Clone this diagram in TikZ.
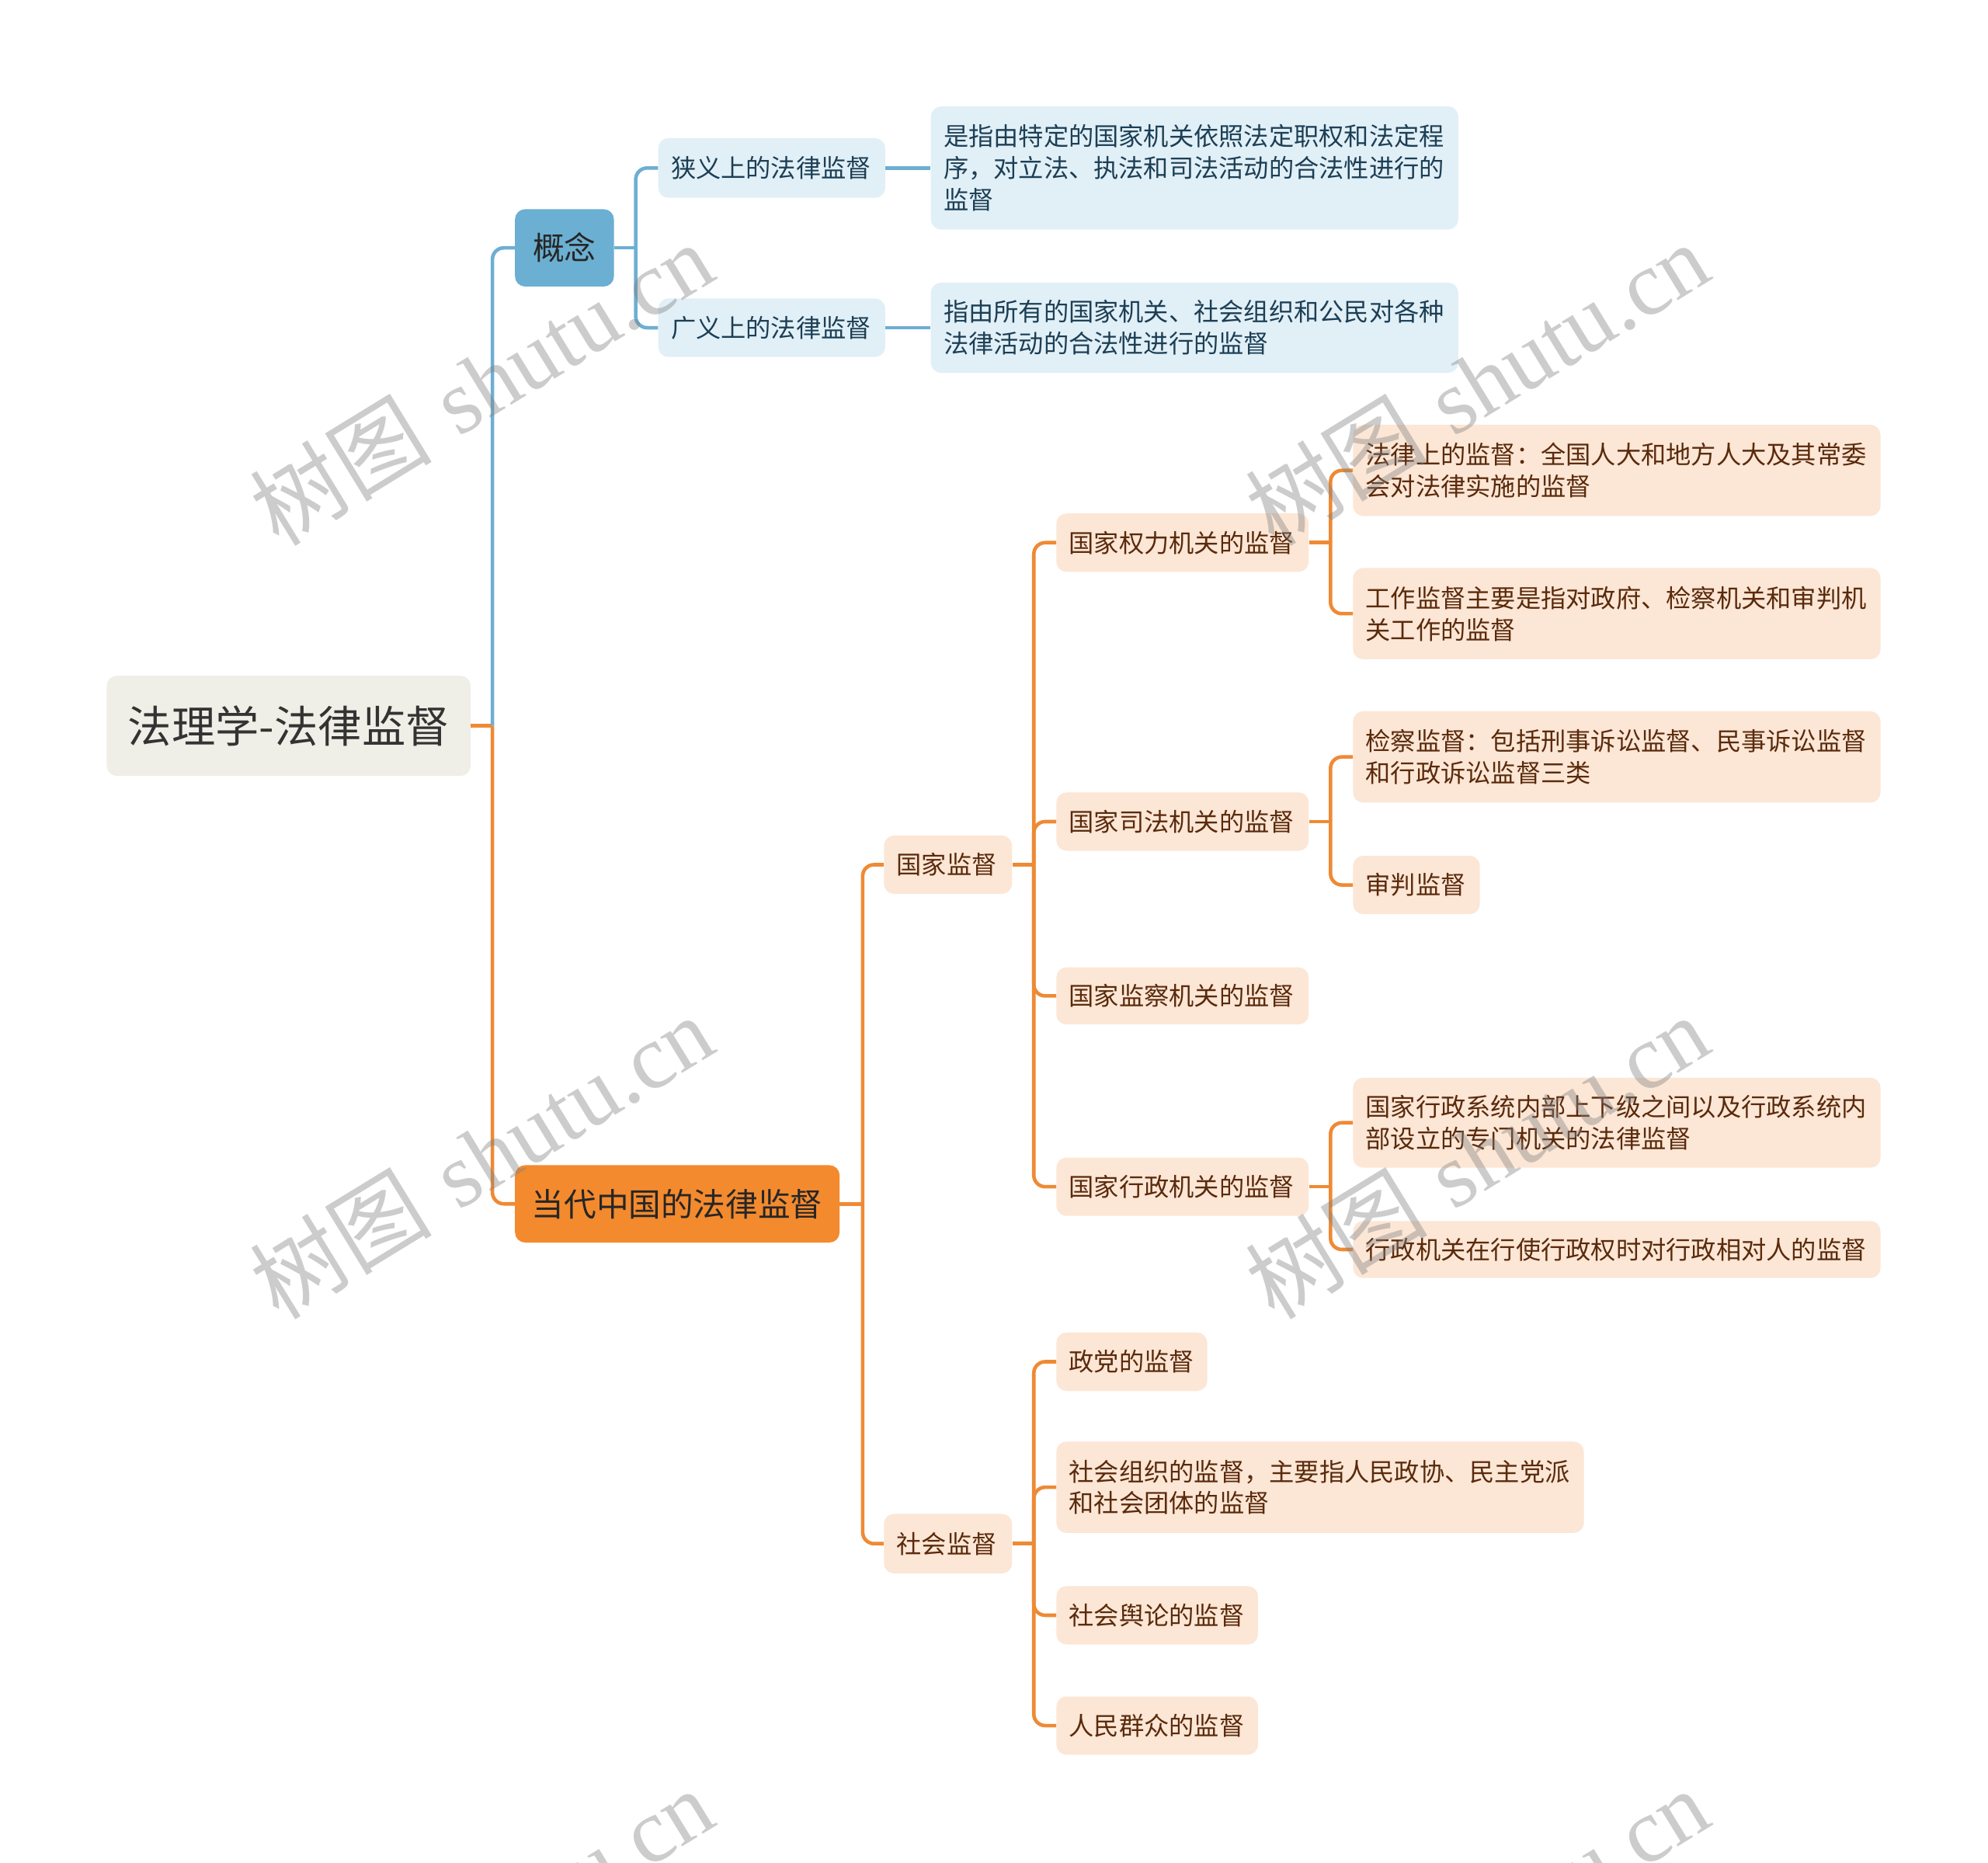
\documentclass[tikz,border=0pt]{standalone}
\usepackage{fontspec}
\newfontfamily\cjk{Noto Sans CJK SC}
\newfontfamily\wmlat{Liberation Serif}
\definecolor{lineblue}{HTML}{6DAFD2}
\definecolor{lineorange}{HTML}{EE8A35}
\definecolor{lblue}{HTML}{E1EFF7}
\definecolor{lorange}{HTML}{FCE6D5}
\definecolor{tblue}{HTML}{1C3F55}
\definecolor{torange}{HTML}{5A2A0C}
\definecolor{rootfill}{HTML}{EFEFE7}
\definecolor{midblue}{HTML}{6BAFD2}
\definecolor{midorange}{HTML}{F38A2E}
\tikzset{
  bx/.style={rounded corners=8pt, inner xsep=10pt, inner ysep=0pt, align=left, anchor=west,
    font=\cjk\fontsize{19.75}{25}\selectfont},
  lb/.style={bx, fill=lblue, text=tblue},
  lo/.style={bx, fill=lorange, text=torange},
  bl/.style={draw=lineblue, line width=2.8pt, rounded corners=9pt},
  ol/.style={draw=lineorange, line width=2.8pt, rounded corners=9pt},
  wm/.style={anchor=base west, rotate=31.5, text=gray, opacity=0.4, inner sep=0pt,
    font=\fontsize{72}{72}\selectfont},
}
\begin{document}
\begin{tikzpicture}[x=1pt,y=-1pt]
\useasboundingbox (0,0) rectangle (1568,1469);
\fill[white] (0,0) rectangle (1568,1469);

% root and first level
\node[rounded corners=8pt, fill=rootfill, text=black!80, inner sep=0pt, anchor=west,
  minimum width=287pt, minimum height=79pt, font=\cjk\fontsize{34.5}{40}\selectfont]
  (root) at (84,572.5) {法理学-法律监督};
\node[rounded corners=8pt, fill=midblue, text=black!85, inner sep=0pt, anchor=west,
  minimum width=78pt, minimum height=61pt, font=\cjk\fontsize{25}{30}\selectfont]
  (gn) at (406,195.5) {概念};
\node[rounded corners=8pt, fill=midorange, text=black!85, inner sep=0pt, anchor=west,
  minimum width=256pt, minimum height=61pt, font=\cjk\fontsize{25.5}{30}\selectfont]
  (dd) at (406,949.5) {当代中国的法律监督};

% concept branch
\node[lb, text width=159pt, minimum height=47pt] (n1) at (519,132.5) {狭义上的法律监督};
\node[lb, text width=159pt, minimum height=46pt] (n2) at (519,258.5) {广义上的法律监督};
\node[lb, text width=396pt, minimum height=97pt] (t1) at (734,132.5)
  {是指由特定的国家机关依照法定职权和法定程\\序，对立法、执法和司法活动的合法性进行的\\监督};
\node[lb, text width=396pt, minimum height=71pt] (t2) at (734,258.5)
  {指由所有的国家机关、社会组织和公民对各种\\法律活动的合法性进行的监督};

% contemporary branch
\node[lo, text width=81pt, minimum height=46pt] (gj) at (697,682) {国家监督};
\node[lo, text width=81pt, minimum height=47pt] (sh) at (697,1217.5) {社会监督};

\node[lo, text width=179pt, minimum height=46pt] (a1) at (833,428) {国家权力机关的监督};
\node[lo, text width=179pt, minimum height=46pt] (a2) at (833,648) {国家司法机关的监督};
\node[lo, text width=179pt, minimum height=45pt] (a3) at (833,785.5) {国家监察机关的监督};
\node[lo, text width=179pt, minimum height=46pt] (a4) at (833,936) {国家行政机关的监督};

\node[lo, text width=396pt, minimum height=72pt] (b1) at (1067,371)
  {法律上的监督：全国人大和地方人大及其常委\\会对法律实施的监督};
\node[lo, text width=396pt, minimum height=72pt] (b2) at (1067,484)
  {工作监督主要是指对政府、检察机关和审判机\\关工作的监督};
\node[lo, text width=396pt, minimum height=72pt] (c1) at (1067,597)
  {检察监督：包括刑事诉讼监督、民事诉讼监督\\和行政诉讼监督三类};
\node[lo, text width=80pt, minimum height=46pt] (c2) at (1067,698) {审判监督};
\node[lo, text width=396pt, minimum height=71pt] (d1) at (1067,885.5)
  {国家行政系统内部上下级之间以及行政系统内\\部设立的专门机关的法律监督};
\node[lo, text width=396pt, minimum height=45pt] (d2) at (1067,985.5)
  {行政机关在行使行政权时对行政相对人的监督};

\node[lo, text width=99pt, minimum height=46pt] (e1) at (833,1074) {政党的监督};
\node[lo, text width=396pt, minimum height=72pt] (e2) at (833,1173)
  {社会组织的监督，主要指人民政协、民主党派\\和社会团体的监督};
\node[lo, text width=139pt, minimum height=46pt] (e3) at (833,1274) {社会舆论的监督};
\node[lo, text width=139pt, minimum height=46pt] (e4) at (833,1361) {人民群众的监督};

% connectors
\draw[ol] (root.east) -- ++(17,0) coordinate (jr);
\draw[bl] (jr) |- (gn.west);
\draw[ol] (jr) |- (dd.west);

\draw[bl] (gn.east) -- ++(17,0) coordinate (jg);
\draw[bl] (jg) |- (n1.west);
\draw[bl] (jg) |- (n2.west);
\draw[bl] (n1.east) -- (t1.west);
\draw[bl] (n2.east) -- (t2.west);

\draw[ol] (dd.east) -- ++(18,0) coordinate (jd);
\draw[ol] (jd) |- (gj.west);
\draw[ol] (jd) |- (sh.west);

\draw[ol] (gj.east) -- ++(17,0) coordinate (jgj);
\foreach \c in {a1,a2,a3,a4} \draw[ol] (jgj) |- (\c.west);

\draw[ol] (a1.east) -- ++(17,0) coordinate (ja1);
\foreach \c in {b1,b2} \draw[ol] (ja1) |- (\c.west);
\draw[ol] (a2.east) -- ++(17,0) coordinate (ja2);
\foreach \c in {c1,c2} \draw[ol] (ja2) |- (\c.west);
\draw[ol] (a4.east) -- ++(17,0) coordinate (ja4);
\foreach \c in {d1,d2} \draw[ol] (ja4) |- (\c.west);

\draw[ol] (sh.east) -- ++(17,0) coordinate (jsh);
\foreach \c in {e1,e2,e3,e4} \draw[ol] (jsh) |- (\c.west);

% watermarks
\begin{scope}
\clip (0,0) rectangle (1568,1469);
\foreach \wx/\wy in {220/432, 1005/432, 220/1042, 1005/1042, 220/1652, 1005/1652}
  \node[wm] at (\wx,\wy) {{\cjk 树图} {\wmlat shutu.cn}};
\end{scope}
\end{tikzpicture}
\end{document}
